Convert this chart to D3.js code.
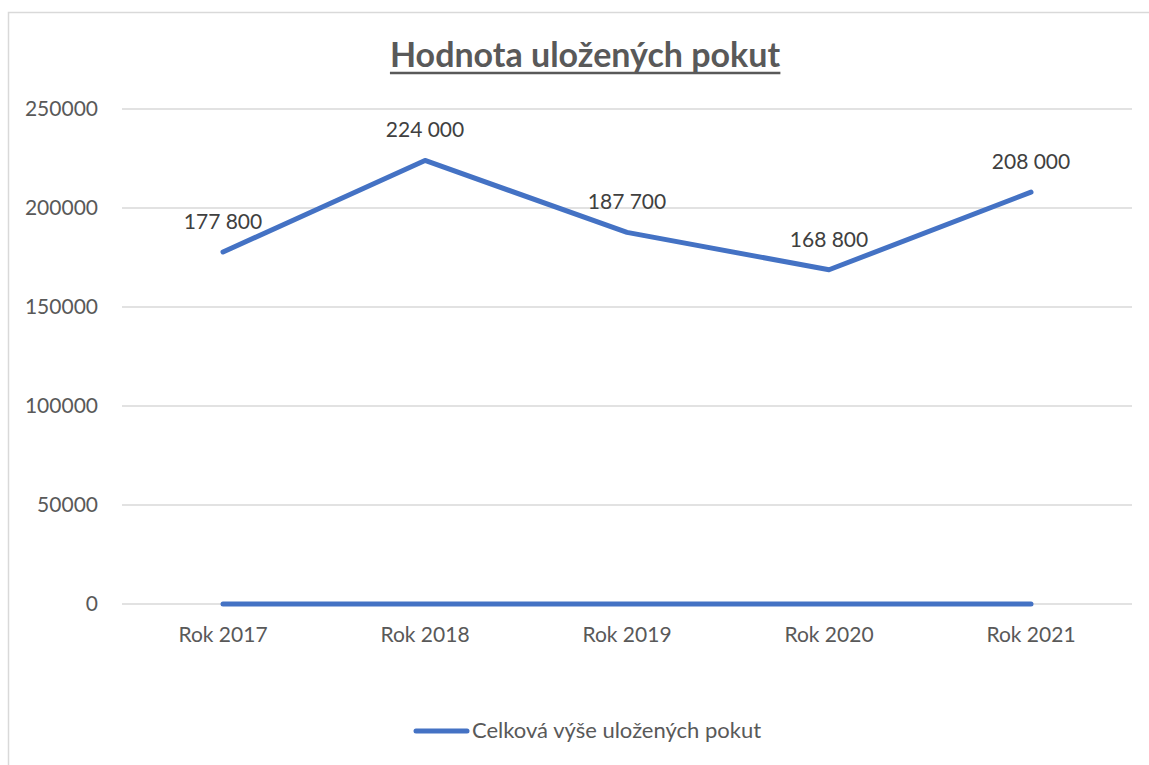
<!DOCTYPE html>
<html>
<head>
<meta charset="utf-8">
<script src="https://cdn.jsdelivr.net/npm/d3@7"></script>
<style>
  body { margin: 0; background: #fff; }
  text { font-family: Lato, "Open Sans", sans-serif; }
</style>
</head>
<body>
<div id="chart"></div>
<script>
var svgWidth = 1149;
var svgHeight = 765;

// data
var categories = ["Rok 2017", "Rok 2018", "Rok 2019", "Rok 2020", "Rok 2021"];
var pokuty = [177800, 224000, 187700, 168800, 208000];
var nulova = [0, 0, 0, 0, 0];
var yTicks = [0, 50000, 100000, 150000, 200000, 250000];
var seriesName = "Celková výše uložených pokut";
var title = "Hodnota uložených pokut";

var margin = { top: 109, left: 122, right: 17, bottom: 161 };
var width = svgWidth - margin.left - margin.right;
var height = svgHeight - margin.top - margin.bottom;

var svg = d3.select("#chart")
  .append("svg")
  .attr("width", svgWidth)
  .attr("height", svgHeight);

// chart frame (runs off the bottom/right edge)
svg.append("rect")
  .attr("x", 8.5).attr("y", 12.5)
  .attr("width", 1200).attr("height", 800)
  .attr("fill", "none")
  .attr("stroke", "#d9d9d9")
  .attr("stroke-width", 1.5);

var chartGroup = svg.append("g")
  .attr("transform", `translate(${margin.left}, ${margin.top})`);

var xScale = d3.scaleBand()
  .domain(categories)
  .range([0, width]);

var yScale = d3.scaleLinear()
  .domain([0, 250000])
  .range([height, 0]);

// gridlines
chartGroup.selectAll(".grid")
  .data(yTicks)
  .enter()
  .append("line")
  .attr("x1", 0).attr("x2", width)
  .attr("y1", d => yScale(d)).attr("y2", d => yScale(d))
  .attr("stroke", "#d9d9d9")
  .attr("stroke-width", 1.5);

// y axis
var yAxis = d3.axisLeft(yScale).tickValues(yTicks).tickSize(0).tickPadding(24).tickFormat(d => d);
var yG = chartGroup.append("g").call(yAxis);
yG.select(".domain").remove();
yG.selectAll("text")
  .attr("fill", "#595959")
  .style("font-size", "21px");

// x axis
var xAxis = d3.axisBottom(xScale).tickSize(0).tickPadding(23);
var xG = chartGroup.append("g")
  .attr("transform", `translate(0, ${height})`)
  .call(xAxis);
xG.select(".domain").remove();
xG.selectAll("text")
  .attr("fill", "#595959")
  .style("font-size", "21px");

var line = d3.line()
  .x((d, i) => xScale(categories[i]) + xScale.bandwidth() / 2)
  .y(d => yScale(d));

[nulova, pokuty].forEach(function(s) {
  chartGroup.append("path")
    .datum(s)
    .attr("d", line)
    .attr("fill", "none")
    .attr("stroke", "#4472c4")
    .attr("stroke-width", 5)
    .attr("stroke-linecap", "round")
    .attr("stroke-linejoin", "round");
});

// data labels
chartGroup.selectAll(".lbl")
  .data(pokuty)
  .enter()
  .append("text")
  .attr("x", (d, i) => xScale(categories[i]) + xScale.bandwidth() / 2)
  .attr("y", d => yScale(d) - 23)
  .attr("text-anchor", "middle")
  .attr("fill", "#404040")
  .style("font-size", "21px")
  .text(d => d3.format(",")(d).replace(/,/g, " "));

// title
var t = svg.append("text")
  .attr("x", 585)
  .attr("y", 67)
  .attr("text-anchor", "middle")
  .attr("fill", "#595959")
  .style("font-size", "34px")
  .style("font-weight", "bold")
  .text(title);
var tb = t.node().getBBox();
svg.append("line")
  .attr("x1", tb.x).attr("x2", tb.x + tb.width)
  .attr("y1", 73).attr("y2", 73)
  .attr("stroke", "#595959")
  .attr("stroke-width", 2.5);

// legend
svg.append("line")
  .attr("x1", 416).attr("x2", 467)
  .attr("y1", 731).attr("y2", 731)
  .attr("stroke", "#4472c4")
  .attr("stroke-width", 5)
  .attr("stroke-linecap", "round");
svg.append("text")
  .attr("x", 472)
  .attr("y", 738)
  .attr("fill", "#595959")
  .style("font-size", "22px")
  .text(seriesName);
</script>
</body>
</html>
